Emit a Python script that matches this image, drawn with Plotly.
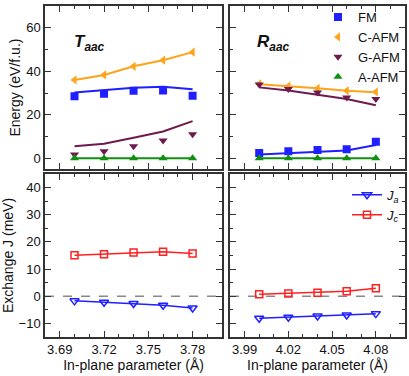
import plotly.graph_objects as go
from plotly.subplots import make_subplots

# in-plane lattice parameters (Angstrom)
a_T = [3.70, 3.72, 3.74, 3.76, 3.78]
a_R = [4.00, 4.02, 4.04, 4.06, 4.08]

# T_aac energies: points and fitted lines
T_fm = [28.5, 29.7, 31.0, 31.2, 28.8]
T_fm_fit = [30.3, 31.2, 32.4, 32.9, 31.7]
T_cafm = [36.0, 38.3, 42.3, 45.1, 48.8]
T_cafm_fit = [36.0, 38.3, 42.3, 45.1, 48.8]
T_gafm = [1.7, 3.2, 5.5, 8.2, 11.0]
T_gafm_fit = [5.5, 6.7, 9.4, 12.3, 17.1]
T_aafm = [0, 0, 0, 0, 0]

# R_aac energies
R_fm = [2.4, 3.2, 3.8, 4.2, 7.6]
R_fm_fit = [1.7, 2.4, 3.0, 3.6, 6.1]
R_cafm = [34.2, 33.2, 32.1, 31.1, 30.5]
R_cafm_fit = [34.0, 33.2, 32.2, 31.1, 30.4]
R_gafm = [33.9, 31.8, 30.3, 28.0, 27.3]
R_gafm_fit = [32.6, 31.2, 29.2, 27.3, 24.4]
R_aafm = [0, 0, 0, 0, 0]

# exchange constants (meV)
T_ja = [-1.7, -2.2, -2.7, -3.3, -4.3]
T_jc = [15.1, 15.5, 16.1, 16.4, 15.7]
R_ja = [-8.1, -7.7, -7.3, -6.9, -6.4]
R_jc = [0.7, 1.0, 1.3, 1.8, 2.9]

BLUE = "#1f1fff"
ORANGE = "#ffa31a"
MAROON = "#6e1a4e"
GREEN = "#109010"
RED = "#ff2020"

fig = make_subplots(rows=2, cols=2)

def energy(col, x, fm, fmf, ca, caf, ga, gaf, aa, legend):
    for y, yf, c, sym, name in [
        (fm, fmf, BLUE, "square", "FM"),
        (ca, caf, ORANGE, "triangle-left", "C-AFM"),
        (ga, gaf, MAROON, "triangle-down", "G-AFM"),
        (aa, aa, GREEN, "triangle-up", "A-AFM"),
    ]:
        fig.add_trace(go.Scatter(x=x, y=yf, mode="lines", line=dict(color=c, width=2),
                                 showlegend=False), row=1, col=col)
        fig.add_trace(go.Scatter(x=x, y=y, mode="markers", name=name,
                                 marker=dict(color=c, symbol=sym, size=8),
                                 showlegend=legend, legend="legend"), row=1, col=col)

energy(1, a_T, T_fm, T_fm_fit, T_cafm, T_cafm_fit, T_gafm, T_gafm_fit, T_aafm, False)
energy(2, a_R, R_fm, R_fm_fit, R_cafm, R_cafm_fit, R_gafm, R_gafm_fit, R_aafm, True)

def exchange(col, x, ja, jc, legend):
    fig.add_trace(go.Scatter(x=x, y=ja, mode="lines+markers", name="<i>J</i><sub><i>a</i></sub>",
                             line=dict(color=BLUE, width=1.5),
                             marker=dict(symbol="triangle-down-open", size=8, color=BLUE,
                                         line=dict(width=1.5)),
                             showlegend=legend, legend="legend2"), row=2, col=col)
    fig.add_trace(go.Scatter(x=x, y=jc, mode="lines+markers", name="<i>J</i><sub><i>c</i></sub>",
                             line=dict(color=RED, width=1.5),
                             marker=dict(symbol="square-open", size=7, color=RED,
                                         line=dict(width=1.5)),
                             showlegend=legend, legend="legend2"), row=2, col=col)

exchange(1, a_T, T_ja, T_jc, False)
exchange(2, a_R, R_ja, R_jc, True)

axcommon = dict(showline=True, linecolor="#333", linewidth=1.5, mirror="ticks",
                ticks="inside", ticklen=6, tickcolor="#333", tickwidth=1.2,
                showgrid=False, zeroline=False,
                tickfont=dict(size=13, color="#111"))
minor_x = dict(ticks="inside", ticklen=3, tickcolor="#333", dtick=0.01, showgrid=False)

fig.update_xaxes(**axcommon)
fig.update_yaxes(**axcommon)

fig.update_xaxes(domain=[0, 0.492], range=[3.68, 3.80], tickvals=[3.69, 3.72, 3.75, 3.78],
                 ticktext=["3.69", "3.72", "3.75", "3.78"], minor=minor_x, col=1)
fig.update_xaxes(domain=[0.514, 1], range=[3.98, 4.10], tickvals=[3.99, 4.02, 4.05, 4.08],
                 ticktext=["3.99", "4.02", "4.05", "4.08"], minor=minor_x, col=2)
fig.update_xaxes(showticklabels=False, row=1)
fig.update_xaxes(title=dict(text="In-plane parameter (Å)", font=dict(size=14, color="#111"),
                            standoff=4), row=2)

fig.update_yaxes(domain=[0.507, 1], range=[-5, 70], dtick=20, tick0=0,
                 minor=dict(ticks="inside", ticklen=3, tickcolor="#333", dtick=10, tick0=0), row=1)
fig.update_yaxes(domain=[0, 0.4925], range=[-15, 45], dtick=10, tick0=0,
                 minor=dict(ticks="inside", ticklen=3, tickcolor="#333", dtick=5, tick0=0), row=2)
fig.update_yaxes(tickvals=[0, 20, 40, 60], row=1, col=1)
fig.update_yaxes(tickvals=[-10, 0, 10, 20, 30, 40], row=2, col=1)
fig.update_yaxes(showticklabels=False, col=2)
fig.update_yaxes(title=dict(text="Energy (eV/f.u.)", font=dict(size=14, color="#111"), standoff=2),
                 row=1, col=1)
fig.update_yaxes(title=dict(text="Exchange J (meV)", font=dict(size=14, color="#111"), standoff=2),
                 row=2, col=1)

# dashed zero line in exchange panels
for xref in ["x3", "x4"]:
    fig.add_shape(type="line", xref=f"{xref} domain", yref="y3" if xref == "x3" else "y4",
                  x0=0, x1=1, y0=0, y1=0, line=dict(color="#888", width=1.3, dash="dash"),
                  layer="below")

fig.add_annotation(text="<b><i>T</i></b><sub><b><i>aac</i></b></sub>", xref="x domain", yref="y domain",
                   x=0.15, y=0.85, showarrow=False, xanchor="left", font=dict(size=17, color="#111"))
fig.add_annotation(text="<b><i>R</i></b><sub><b><i>aac</i></b></sub>", xref="x2 domain", yref="y2 domain",
                   x=0.14, y=0.85, showarrow=False, xanchor="left", font=dict(size=17, color="#111"))

fig.update_layout(
    width=409, height=376,
    margin=dict(l=45, r=2, t=2, b=39),
    plot_bgcolor="white", paper_bgcolor="white",
    font=dict(family="Liberation Sans, Arial, sans-serif", color="#111"),
    legend=dict(x=1.0, y=1.012, xanchor="right", yanchor="top", bgcolor="rgba(0,0,0,0)",
                font=dict(size=13), tracegroupgap=0, itemwidth=30),
    legend2=dict(x=1.0, y=0.475, xanchor="right", yanchor="top", bgcolor="rgba(0,0,0,0)",
                 font=dict(size=13), tracegroupgap=0, itemwidth=30),
)

fig.write_html("out.html", config={"displayModeBar": False},
               post_script="document.body.style.margin='0';")
